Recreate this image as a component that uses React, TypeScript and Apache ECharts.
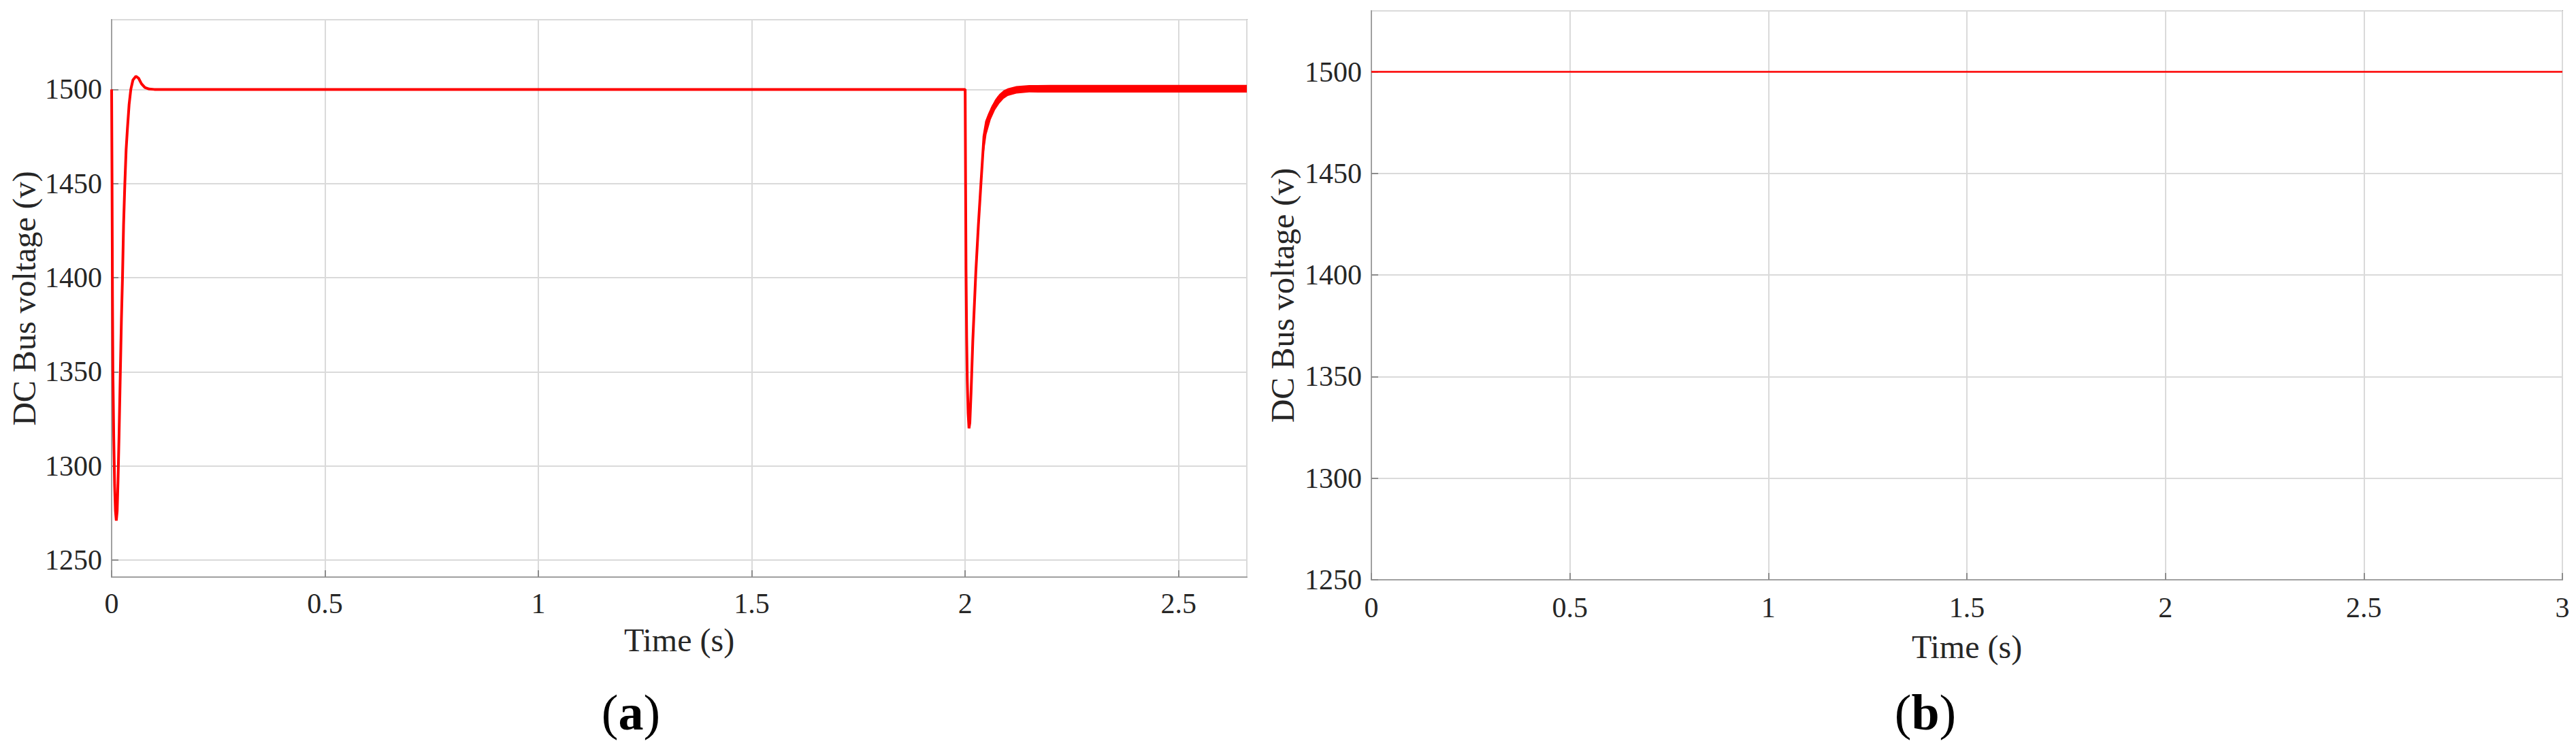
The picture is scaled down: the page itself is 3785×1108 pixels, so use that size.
import React, { useEffect, useRef } from 'react';
import * as echarts from 'echarts';

// ---------- data ----------
// Panel (a): DC bus voltage with start-up transient and a disturbance at t = 2 s
const timeA = [
  0, 0.001, 0.002, 0.003, 0.005, 0.007, 0.009, 0.011, 0.013, 0.015, 0.0175, 0.020, 0.023, 0.0255,
  0.028, 0.031, 0.034, 0.037, 0.041, 0.045, 0.050, 0.057, 0.063, 0.070, 0.078, 0.088, 0.100,
  1.000, 2.000, 2.001, 2.002, 2.0035, 2.005, 2.007, 2.009, 2.011, 2.014, 2.018, 2.025, 2.031,
  2.037, 2.044, 2.050, 2.057, 2.065, 2.079, 2.100, 2.120, 2.150, 2.660,
];
const voltA = [
  1500, 1450, 1390, 1350, 1315, 1290, 1276, 1271, 1276, 1292, 1317, 1345, 1378, 1400,
  1428, 1450, 1468, 1479, 1492, 1500, 1505, 1507, 1506, 1503, 1501, 1500.2, 1500,
  1500, 1500, 1450, 1405, 1368, 1345, 1328, 1320, 1323, 1340, 1367, 1403, 1428,
  1450, 1475, 1483, 1487, 1491, 1496, 1498.5, 1499.5, 1500, 1500,
];
// ripple envelope after the disturbance (thick band)
const rippleTime = [2.04, 2.05, 2.06, 2.07, 2.08, 2.09, 2.10, 2.12, 2.15, 2.20, 2.66];
const rippleLow = [1460, 1476, 1484, 1489, 1492.5, 1495, 1496.5, 1497.8, 1498.4, 1498.3, 1498.3];
const rippleHigh = [1464, 1481, 1490, 1494.5, 1497.5, 1499.5, 1500.6, 1501.8, 1502.3, 1502.4, 1502.4];

// Panel (b): constant DC bus voltage
const timeB = [0, 3];
const voltB = [1500, 1500];

// axis ranges / labels
const xRangeA = [0, 2.66];
const yRangeA = [1241, 1537];
const xRangeB = [0, 3];
const yRangeB = [1250, 1530];
const xStep = 0.5;
const yStep = 50;
const xName = 'Time (s)';
const yName = 'DC Bus voltage (v)';
const panelLabels = ['a', 'b'];

const FONT = '"Liberation Serif", "Times New Roman", serif';
const TXT = '#262626';
const BOX = '#a0a0a0';
const GRIDC = '#dadada';
const RED = '#ff0000';

const plainNum = (v: number) => String(Math.round(v * 1000) / 1000);

function xAxisCfg(gridIndex: number, range: number[], nameGap: number, labelMargin: number) {
  return {
    type: 'value',
    gridIndex,
    min: range[0],
    max: range[1],
    interval: xStep,
    name: xName,
    nameLocation: 'middle',
    nameGap,
    nameTextStyle: { fontFamily: FONT, fontSize: 48, color: TXT },
    axisLine: { show: true, lineStyle: { color: BOX, width: 2 } },
    axisTick: { show: true, inside: true, length: 10, lineStyle: { color: '#8c8c8c', width: 2 } },
    axisLabel: {
      fontFamily: FONT, fontSize: 42, color: TXT, margin: labelMargin,
      formatter: plainNum,
      showMaxLabel: range[1] % xStep === 0,
    },
    splitLine: { show: true, lineStyle: { color: GRIDC, width: 2 } },
  };
}

function yAxisCfg(gridIndex: number, range: number[], nameGap: number, useInterval: boolean) {
  const cfg: any = {
    type: 'value',
    gridIndex,
    min: range[0],
    max: range[1],
    name: yName,
    nameLocation: 'middle',
    nameGap,
    nameTextStyle: { fontFamily: FONT, fontSize: 48, color: TXT },
    axisLine: { show: true, lineStyle: { color: BOX, width: 2 } },
    axisTick: { show: true, inside: true, length: 10, lineStyle: { color: '#8c8c8c', width: 2 } },
    axisLabel: {
      fontFamily: FONT, fontSize: 42, color: TXT, margin: 14,
      formatter: plainNum,
      showMinLabel: range[0] % yStep === 0,
      showMaxLabel: range[1] % yStep === 0,
    },
    splitLine: { show: true, lineStyle: { color: GRIDC, width: 2 } },
  };
  if (useInterval) cfg.interval = yStep;
  else cfg.splitNumber = 5;
  return cfg;
}

export default function App() {
  const ref = useRef<HTMLDivElement>(null);

  useEffect(() => {
    if (!ref.current) return;
    const chart = echarts.init(ref.current, null, { renderer: 'svg' });

    const bandData = rippleTime.map((t, i) => [t, rippleLow[i], rippleHigh[i]]);

    const option: any = {
      animation: false,
      backgroundColor: '#ffffff',
      grid: [
        { left: 164, top: 29, width: 1668, height: 819, show: true, borderColor: BOX, borderWidth: 2, backgroundColor: '#fff' },
        { left: 2015, top: 16, width: 1750, height: 836, show: true, borderColor: BOX, borderWidth: 2, backgroundColor: '#fff' },
      ],
      xAxis: [xAxisCfg(0, xRangeA, 68, 18), xAxisCfg(1, xRangeB, 74, 20)],
      yAxis: [yAxisCfg(0, yRangeA, 105, false), yAxisCfg(1, yRangeB, 107, true)],
      series: [
        {
          name: 'ripple band',
          type: 'custom',
          xAxisIndex: 0,
          yAxisIndex: 0,
          data: bandData,
          encode: { x: 0, y: [1, 2] },
          silent: true,
          clip: true,
          z: 2,
          renderItem: (params: any, api: any) => {
            if (params.dataIndex !== 0) return null;
            const upper = bandData.map((d) => api.coord([d[0], d[2]]));
            const lower = bandData.map((d) => api.coord([d[0], d[1]])).reverse();
            return {
              type: 'polygon',
              shape: { points: upper.concat(lower) },
              style: { fill: RED },
            };
          },
        },
        {
          name: 'DC bus voltage (a)',
          type: 'line',
          xAxisIndex: 0,
          yAxisIndex: 0,
          data: timeA.map((t, i) => [t, voltA[i]]),
          showSymbol: false,
          symbol: 'none',
          lineStyle: { color: RED, width: 4 },
          z: 3,
        },
        {
          name: 'DC bus voltage (b)',
          type: 'line',
          xAxisIndex: 1,
          yAxisIndex: 1,
          data: timeB.map((t, i) => [t, voltB[i]]),
          showSymbol: false,
          symbol: 'none',
          lineStyle: { color: RED, width: 2.5 },
          z: 3,
        },
      ],
      graphic: [
        {
          type: 'text',
          x: 927,
          y: 1047,
          style: {
            text: `{p|(}{b|${panelLabels[0]}}{p|)}`,
            align: 'center',
            verticalAlign: 'middle',
            rich: {
              p: { fontFamily: FONT, fontSize: 74, fill: '#000' },
              b: { fontFamily: FONT, fontSize: 74, fontWeight: 'bold', fill: '#000' },
            },
          },
        },
        {
          type: 'text',
          x: 2829,
          y: 1047,
          style: {
            text: `{p|(}{b|${panelLabels[1]}}{p|)}`,
            align: 'center',
            verticalAlign: 'middle',
            rich: {
              p: { fontFamily: FONT, fontSize: 74, fill: '#000' },
              b: { fontFamily: FONT, fontSize: 74, fontWeight: 'bold', fill: '#000' },
            },
          },
        },
      ],
    };

    chart.setOption(option);
    return () => chart.dispose();
  }, []);

  return (
    <div
      ref={ref}
      style={{ position: 'absolute', left: 0, top: 0, width: 3785, height: 1108, background: '#fff' }}
    />
  );
}
